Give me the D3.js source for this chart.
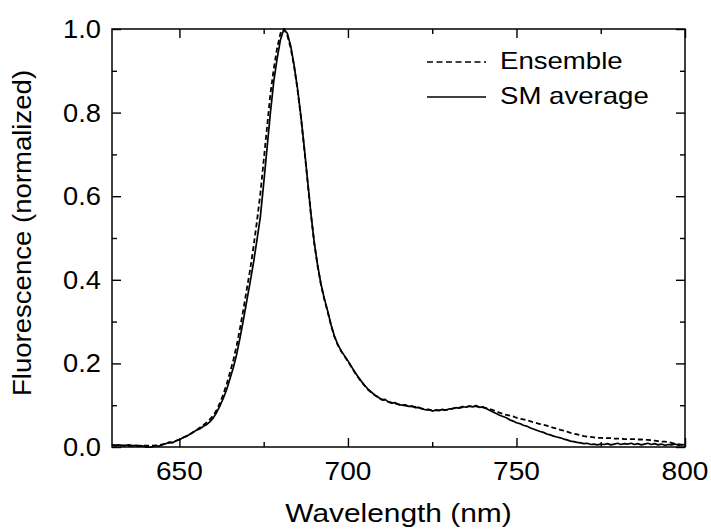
<!DOCTYPE html>
<html lang="en">
<head>
  <meta charset="UTF-8">
  <title>Fluorescence spectra</title>
  <style>
    body { margin: 0; background: #fff; font-family: 'Liberation Sans', Arial, sans-serif; }
    svg { display: block; }
    .axis path, .axis line { stroke: #000; }
  </style>
</head>
<body>
  <div id="chart"></div>
  <script src="https://cdn.jsdelivr.net/npm/d3@7"></script>
  <script>
    // wavelength grid, 1 nm steps
    const wavelengths = d3.range(630, 801);

    // SM average (solid), one value per nm from 630 to 800
    const smAverage = [
      0.006, 0.004, 0.005, 0.003, 0.004, 0.005, 0.003, 0.004, 0.002, 0.003,
      0.000, -0.002, 0.001, 0.003, 0.002, 0.006, 0.008, 0.012, 0.010, 0.015,
      0.017, 0.022, 0.025, 0.030, 0.035, 0.040, 0.043, 0.049, 0.053, 0.060,
      0.069, 0.082, 0.098, 0.116, 0.137, 0.163, 0.190, 0.222, 0.262, 0.305,
      0.350, 0.395, 0.442, 0.495, 0.550, 0.630, 0.715, 0.800, 0.875, 0.930,
      0.975, 1.000, 0.990, 0.960, 0.915, 0.860, 0.795, 0.720, 0.640, 0.560,
      0.490, 0.435, 0.390, 0.355, 0.325, 0.292, 0.265, 0.245, 0.230, 0.218,
      0.206, 0.193, 0.180, 0.168, 0.157, 0.147, 0.138, 0.131, 0.124, 0.119,
      0.113, 0.114, 0.108, 0.105, 0.106, 0.102, 0.100, 0.101, 0.097, 0.098,
      0.094, 0.095, 0.091, 0.089, 0.090, 0.086, 0.088, 0.087, 0.090, 0.088,
      0.091, 0.092, 0.094, 0.093, 0.097, 0.095, 0.098, 0.096, 0.099, 0.095,
      0.096, 0.092, 0.088, 0.084, 0.080, 0.076, 0.073, 0.070, 0.065, 0.062,
      0.058, 0.056, 0.052, 0.050, 0.046, 0.043, 0.040, 0.037, 0.035, 0.031,
      0.029, 0.026, 0.024, 0.022, 0.019, 0.017, 0.014, 0.013, 0.011, 0.010,
      0.008, 0.009, 0.006, 0.007, 0.005, 0.007, 0.006, 0.008, 0.005, 0.007,
      0.009, 0.006, 0.008, 0.007, 0.009, 0.006, 0.008, 0.005, 0.007, 0.009,
      0.006, 0.008, 0.005, 0.007, 0.004, 0.006, 0.005, 0.007, 0.004, 0.006,
      0.005
    ];

    // Ensemble (dashed), same grid
    const ensemble = [
      0.004, 0.004, 0.004, 0.004, 0.003, 0.003, 0.003, 0.003, 0.003, 0.003,
      0.003, 0.003, 0.003, 0.004, 0.005, 0.006, 0.008, 0.010, 0.012, 0.015,
      0.018, 0.022, 0.026, 0.030, 0.035, 0.040, 0.046, 0.052, 0.058, 0.066,
      0.075, 0.088, 0.105, 0.125, 0.150, 0.178, 0.208, 0.243, 0.285, 0.330,
      0.378, 0.425, 0.480, 0.540, 0.605, 0.685, 0.765, 0.845, 0.905, 0.955,
      0.990, 1.000, 0.985, 0.955, 0.912, 0.857, 0.792, 0.717, 0.637, 0.557,
      0.488, 0.433, 0.388, 0.353, 0.323, 0.291, 0.264, 0.244, 0.229, 0.217,
      0.205, 0.192, 0.179, 0.167, 0.156, 0.146, 0.137, 0.130, 0.124, 0.119,
      0.114, 0.111, 0.108, 0.106, 0.104, 0.102, 0.100, 0.099, 0.098, 0.097,
      0.096, 0.094, 0.092, 0.090, 0.089, 0.088, 0.088, 0.088, 0.088, 0.089,
      0.090, 0.092, 0.093, 0.094, 0.095, 0.096, 0.097, 0.097, 0.097, 0.096,
      0.095, 0.093, 0.091, 0.088, 0.085, 0.082, 0.079, 0.077, 0.075, 0.073,
      0.070, 0.068, 0.066, 0.064, 0.062, 0.059, 0.057, 0.055, 0.053, 0.051,
      0.048, 0.046, 0.044, 0.041, 0.039, 0.037, 0.034, 0.032, 0.030, 0.028,
      0.026, 0.025, 0.024, 0.023, 0.022, 0.022, 0.021, 0.021, 0.021, 0.020,
      0.020, 0.020, 0.019, 0.019, 0.019, 0.019, 0.018, 0.018, 0.017, 0.017,
      0.016, 0.015, 0.014, 0.013, 0.013, 0.012, 0.010, 0.008, 0.007, 0.005,
      0.004
    ];

    const xMajor = [650, 700, 750, 800];
    const xMinor = [675, 725, 775];
    const yMajor = [0, 0.2, 0.4, 0.6, 0.8, 1.0];
    const yMinor = [0.1, 0.3, 0.5, 0.7, 0.9];
    const seriesNames = ['Ensemble', 'SM average'];

    const W = 711, H = 529;
    const margin = { top: 29, right: 26, bottom: 82, left: 112 };
    const iw = W - margin.left - margin.right;
    const ih = H - margin.top - margin.bottom;

    const svg = d3.select('#chart').append('svg')
      .attr('width', W).attr('height', H);
    svg.append('rect').attr('width', W).attr('height', H).attr('fill', '#fff');

    const g = svg.append('g').attr('transform', `translate(${margin.left},${margin.top})`);

    const x = d3.scaleLinear().domain([630, 800]).range([0, iw]);
    const y = d3.scaleLinear().domain([0, 1]).range([ih, 0]);

    g.append('clipPath').attr('id', 'clip')
      .append('rect').attr('width', iw).attr('height', ih + 2).attr('y', -1);

    const line = arr => d3.line()
      .x((d, i) => x(wavelengths[i]))
      .y(d => y(d))(arr);

    const plot = g.append('g').attr('clip-path', 'url(#clip)');
    plot.append('path').attr('d', line(ensemble))
      .attr('fill', 'none').attr('stroke', '#000').attr('stroke-width', 1.8)
      .attr('stroke-dasharray', '5,3');
    plot.append('path').attr('d', line(smAverage))
      .attr('fill', 'none').attr('stroke', '#000').attr('stroke-width', 1.7)
      .attr('stroke-linejoin', 'round');

    // ticks, all pointing inward
    const tickFont = 26;
    function axisTicks(axis, sel, size) {
      return sel.call(axis.tickSize(size).tickFormat(''))
        .call(s => s.select('.domain').remove())
        .call(s => s.selectAll('line').attr('stroke-width', 1.4));
    }
    axisTicks(d3.axisBottom(x).tickValues(xMajor), g.append('g').attr('transform', `translate(0,${ih})`), -9);
    axisTicks(d3.axisBottom(x).tickValues(xMinor), g.append('g').attr('transform', `translate(0,${ih})`), -5);
    axisTicks(d3.axisTop(x).tickValues(xMajor), g.append('g'), -9);
    axisTicks(d3.axisTop(x).tickValues(xMinor), g.append('g'), -5);
    axisTicks(d3.axisLeft(y).tickValues(yMajor), g.append('g'), -9);
    axisTicks(d3.axisLeft(y).tickValues(yMinor), g.append('g'), -5);
    axisTicks(d3.axisRight(y).tickValues(yMajor), g.append('g').attr('transform', `translate(${iw},0)`), -9);
    axisTicks(d3.axisRight(y).tickValues(yMinor), g.append('g').attr('transform', `translate(${iw},0)`), -5);

    // frame
    g.append('rect').attr('width', iw).attr('height', ih)
      .attr('fill', 'none').attr('stroke', '#000').attr('stroke-width', 1.5);

    // tick labels
    g.selectAll('.xlab').data(xMajor).enter().append('text')
      .attr('transform', d => `translate(${x(d)},${ih + 33}) scale(1.08,1)`)
      .attr('text-anchor', 'middle').attr('font-size', tickFont).text(d => d);
    g.selectAll('.ylab').data(yMajor).enter().append('text')
      .attr('transform', d => `translate(-11,${y(d) + 9}) scale(1.05,1)`)
      .attr('text-anchor', 'end').attr('font-size', tickFont).text(d => d.toFixed(1));

    // axis titles
    g.append('text')
      .attr('transform', `translate(${iw / 2},${ih + 75}) scale(1.15,1)`)
      .attr('text-anchor', 'middle').attr('font-size', 26).text('Wavelength (nm)');
    g.append('text')
      .attr('transform', `translate(${31 - margin.left},${233 - margin.top}) rotate(-90) scale(1.06,1)`)
      .attr('text-anchor', 'middle').attr('font-size', 26).text('Fluorescence (normalized)');

    // legend
    const legend = g.append('g').attr('transform', `translate(${427 - margin.left},${62 - margin.top})`);
    seriesNames.forEach((name, i) => {
      const row = legend.append('g').attr('transform', `translate(0,${i * 35})`);
      row.append('line').attr('x1', 0).attr('x2', 59)
        .attr('stroke', '#000').attr('stroke-width', 1.6)
        .attr('stroke-dasharray', i === 0 ? '6,3.5' : null);
      row.append('text').attr('transform', 'translate(73,7) scale(1.2,1)')
        .attr('font-size', 23).text(name);
    });
  </script>
</body>
</html>
